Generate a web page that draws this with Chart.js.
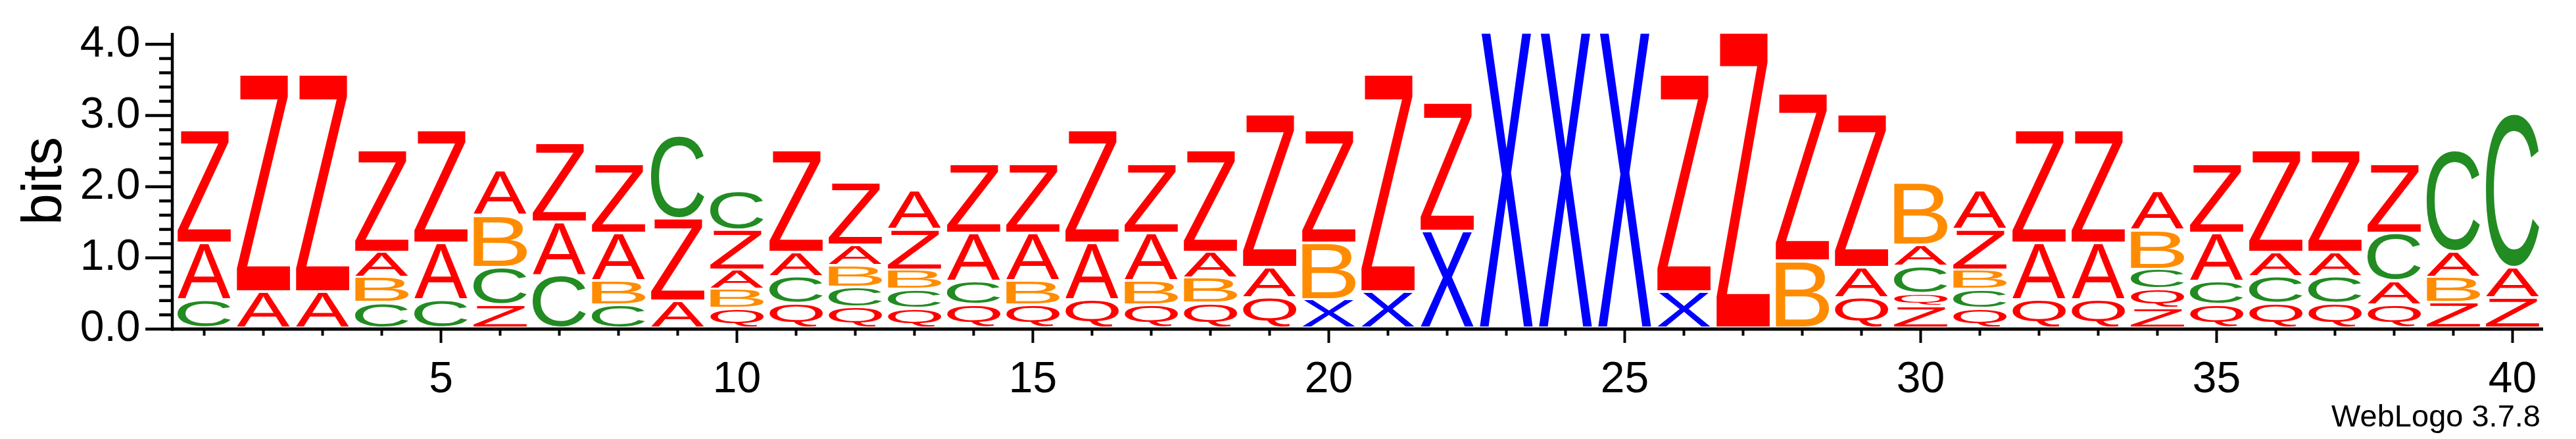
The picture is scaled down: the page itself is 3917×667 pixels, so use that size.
<!DOCTYPE html>
<html>
<head>
<meta charset="utf-8">
<title>WebLogo</title>
<script src="https://cdn.jsdelivr.net/npm/chart.js@4.4.1/dist/chart.umd.min.js"></script>
<style>
  html, body { margin: 0; padding: 0; background: #fff; }
  #wrap { width: 3917px; height: 667px; }
</style>
</head>
<body>
<div id="wrap"><canvas id="logo" width="3917" height="667"></canvas></div>
<script>
// ===== DATA =====
// Sequence positions (x categories)
const positions = ['1', '2', '3', '4', '5', '6', '7', '8', '9', '10',
  '11', '12', '13', '14', '15', '16', '17', '18', '19', '20',
  '21', '22', '23', '24', '25', '26', '27', '28', '29', '30',
  '31', '32', '33', '34', '35', '36', '37', '38', '39', '40'];

// Letters of each stack, bottom to top
const stackLetters = ['CAZ', 'AZ', 'AZ', 'CBAZ', 'CAZ', 'ZCBA', 'CAZ', 'CBAZ', 'AZC', 'QBAZC',
  'QCAZ', 'QCBAZ', 'QCBZA', 'QCAZ', 'QBAZ', 'QAZ', 'QBAZ', 'QBAZ', 'QAZ', 'XBZ',
  'XZ', 'XZ', 'X', 'X', 'X', 'XZ', 'Z', 'BZ', 'QAZ', 'ZQCAB',
  'QCBZA', 'QAZ', 'QAZ', 'ZQCBA', 'QCAZ', 'QCAZ', 'QCAZ', 'QACZ', 'ZBAC', 'ZAC'];

// Height (bits) of each letter, same order as stackLetters
const stackBits = [
  [0.395, 0.799, 1.589], [0.509, 3.060], [0.509, 3.060], [0.357, 0.350, 0.360, 1.429],
  [0.395, 0.799, 1.589], [0.325, 0.525, 0.723, 0.636], [0.739, 0.748, 1.111],
  [0.325, 0.340, 0.669, 0.977], [0.379, 1.160, 1.170], [0.274, 0.267, 0.274, 0.564, 0.550],
  [0.347, 0.373, 0.347, 1.429], [0.290, 0.280, 0.309, 0.289, 0.876],
  [0.274, 0.270, 0.271, 0.564, 0.550], [0.325, 0.331, 0.678, 0.977],
  [0.325, 0.340, 0.669, 0.977], [0.395, 0.799, 1.589], [0.325, 0.340, 0.669, 0.977],
  [0.347, 0.353, 0.367, 1.429], [0.427, 0.423, 2.155], [0.401, 0.793, 1.589],
  [0.509, 3.060], [1.359, 1.809], [4.161], [4.161], [4.161], [0.509, 3.060], [4.161],
  [0.942, 2.359], [0.427, 0.423, 2.155], [0.306, 0.178, 0.382, 0.302, 0.876],
  [0.274, 0.270, 0.271, 0.564, 0.550], [0.395, 0.799, 1.589], [0.395, 0.799, 1.589],
  [0.274, 0.274, 0.277, 0.550, 0.554], [0.325, 0.331, 0.678, 0.977],
  [0.347, 0.373, 0.347, 1.429], [0.347, 0.373, 0.347, 1.429], [0.325, 0.340, 0.669, 0.977],
  [0.357, 0.350, 0.360, 1.423], [0.427, 0.423, 2.165]
];

const yTicks = [0, 1, 2, 3, 4];
const xTickLabels = ['5', '10', '15', '20', '25', '30', '35', '40'];
const yMax = 4.16;
const yMinorStep = 0.2;

// ===== STYLE =====
const FONT = "'Liberation Sans', Arial, sans-serif";
const letterColors = { A: '#ff0000', B: '#ff8c00', C: '#228b22', Q: '#ff0000', X: '#0000ff', Z: '#ff0000' };
const LETTER_GAP = 4;

// one stacked dataset per layer of the stacks
const depth = Math.max(...stackLetters.map(s => s.length));
const datasets = [];
for (let k = 0; k < depth; k++) {
  datasets.push({
    label: 'layer ' + k,
    data: stackBits.map(s => s[k] || 0),
    letters: stackLetters.map(s => s[k] || ''),
    backgroundColor: 'rgba(0,0,0,0)',
    borderWidth: 0,
    categoryPercentage: 1.0,
    barPercentage: 0.9,
  });
}

// ===== LETTER GLYPHS =====
// Measure the ink box of each glyph once, then stretch it over the bar.
const glyphCache = {};
function glyphBox(ctx, ch) {
  if (glyphCache[ch]) return glyphCache[ch];
  ctx.save();
  ctx.font = `200px ${FONT}`;
  ctx.textAlign = 'left';
  ctx.textBaseline = 'alphabetic';
  const m = ctx.measureText(ch);
  ctx.restore();
  glyphCache[ch] = {
    l: m.actualBoundingBoxLeft, r: m.actualBoundingBoxRight,
    a: m.actualBoundingBoxAscent, d: m.actualBoundingBoxDescent
  };
  return glyphCache[ch];
}

const letterPlugin = {
  id: 'letters',
  afterDatasetsDraw(chart) {
    const ctx = chart.ctx;
    chart.data.datasets.forEach((ds, k) => {
      chart.getDatasetMeta(k).data.forEach((bar, i) => {
        const ch = ds.letters[i];
        if (!ch || !ds.data[i]) return;
        const { x, y, base, width } = bar.getProps(['x', 'y', 'base', 'width'], true);
        const top = Math.min(y, base);
        const bottom = Math.max(y, base) - LETTER_GAP;
        const h = bottom - top;
        if (h <= 0) return;
        const g = glyphBox(ctx, ch);
        const sx = width / (g.l + g.r);
        const sy = h / (g.a + g.d);
        ctx.save();
        ctx.fillStyle = letterColors[ch];
        ctx.font = `200px ${FONT}`;
        ctx.textAlign = 'left';
        ctx.textBaseline = 'alphabetic';
        ctx.translate(x - width / 2 + g.l * sx, bottom - g.d * sy);
        ctx.scale(sx, sy);
        ctx.fillText(ch, 0, 0);
        ctx.restore();
      });
    });
  }
};

// ===== AXES, TICK MARKS, FINEPRINT =====
const axesPlugin = {
  id: 'logoAxes',
  afterDraw(chart) {
    const { ctx, chartArea, scales: { x, y } } = chart;
    const axisX = chartArea.left - 3.5;
    const y0 = y.getPixelForValue(0);
    ctx.save();
    ctx.strokeStyle = '#000';
    ctx.lineCap = 'butt';

    // y axis line
    ctx.lineWidth = 4.5;
    ctx.beginPath();
    ctx.moveTo(axisX, y.getPixelForValue(yMax));
    ctx.lineTo(axisX, y0 + 2.5);
    ctx.stroke();

    // x axis line
    ctx.lineWidth = 5;
    ctx.beginPath();
    ctx.moveTo(axisX - 2, y0);
    ctx.lineTo(chartArea.right + 1.5, y0);
    ctx.stroke();

    // y tick marks: long at whole bits, short every 0.2
    ctx.lineWidth = 4.5;
    const last = yTicks[yTicks.length - 1];
    for (let n = 0; n * yMinorStep <= last + 1e-6; n++) {
      const v = n * yMinorStep;
      const py = y.getPixelForValue(v);
      const major = yTicks.some(t => Math.abs(t - v) < 1e-6);
      ctx.beginPath();
      ctx.moveTo(axisX, py);
      ctx.lineTo(axisX - (major ? 41 : 20), py);
      ctx.stroke();
    }

    // x tick marks: one per position, longer where labelled
    ctx.lineWidth = 4;
    positions.forEach((p, i) => {
      const px = x.getPixelForValue(i);
      ctx.beginPath();
      ctx.moveTo(px, y0);
      ctx.lineTo(px, y0 + (xTickLabels.includes(p) ? 21 : 10));
      ctx.stroke();
    });

    // fineprint
    ctx.fillStyle = '#000';
    ctx.font = `47px ${FONT}`;
    ctx.textAlign = 'right';
    ctx.textBaseline = 'alphabetic';
    ctx.fillText('WebLogo 3.7.8', chartArea.right - 2.5, chart.height - 19);
    ctx.restore();
  }
};

// ===== CHART =====
new Chart(document.getElementById('logo').getContext('2d'), {
  type: 'bar',
  data: { labels: positions, datasets },
  options: {
    responsive: false,
    animation: false,
    events: [],
    layout: { padding: { left: 0, right: 51.5, top: 50, bottom: 0 } },
    plugins: { legend: { display: false }, tooltip: { enabled: false } },
    scales: {
      x: {
        stacked: true,
        grid: { display: false, drawTicks: false },
        border: { display: false },
        ticks: {
          autoSkip: false,
          maxRotation: 0,
          padding: 38,
          color: '#000',
          font: { family: FONT, size: 66 },
          callback(val) {
            const label = this.getLabelForValue(val);
            return xTickLabels.includes(label) ? label : '';
          }
        },
        afterFit(scale) {
          scale.height = 167;
          scale.paddingLeft = 0;
          scale.paddingRight = 0;
        }
      },
      y: {
        stacked: true,
        min: 0,
        max: yMax,
        grid: { display: false, drawTicks: false },
        border: { display: false },
        afterBuildTicks(scale) { scale.ticks = yTicks.map(v => ({ value: v })); },
        ticks: {
          padding: 52,
          color: '#000',
          font: { family: FONT, size: 66 },
          callback: v => Number(v).toFixed(1)
        },
        title: {
          display: true,
          text: 'bits',
          color: '#000',
          font: { family: FONT, size: 86 },
          padding: { top: 18, bottom: 0 }
        },
        afterFit(scale) {
          scale.width = 265.5;
          scale.paddingTop = 0;
          scale.paddingBottom = 0;
        }
      }
    }
  },
  plugins: [letterPlugin, axesPlugin]
});
</script>
</body>
</html>
